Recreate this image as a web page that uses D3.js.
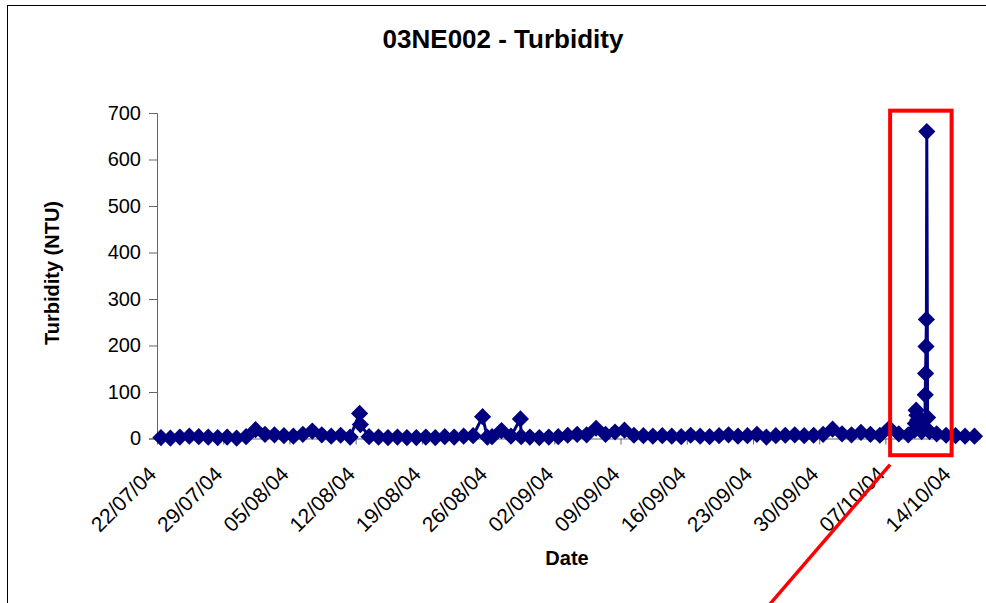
<html>
<head>
<script src="https://d3js.org/d3.v7.min.js"></script>
<style>
 body { margin: 0; background: #fff; }
 text { font-family: Arial, "Liberation Sans", sans-serif; }
</style>
</head>
<body>
<script type="text/javascript">

// daily grab samples, taken around 10:00 each day from 22/07/04
var startDay = "22/07/04";
var dailyValues = [
  2, 1, 3, 5, 4, 3, 2, 3, 1, 4,        // 22/07 - 31/07
  19, 9, 8, 6, 5, 9, 16, 8, 5, 7,      // 01/08 - 10/08
  3, 54, 4, 3, 2, 3, 2, 2, 3, 2,       // 11/08 - 20/08
  4, 3, 5, 6, 47, 4, 17, 5, 42, 3,     // 21/08 - 30/08
  2, 3, 4, 7, 9, 8, 22, 9, 14, 18,     // 31/08 - 09/09
  7, 6, 5, 6, 5, 4, 7, 5, 4, 6,        // 10/09 - 19/09
  8, 5, 6, 9, 3, 6, 7, 8, 6, 7,        // 20/09 - 29/09
  9, 20, 10, 8, 13, 9, 7, 22, 10, 8,   // 30/09 - 09/10
  null, null, 10, 7, 6, 5, 5           // 10/10 - 16/10 (10th & 11th in event list)
];

// extra samples during events
var eventTimes = [
  "12/08/04 12:00", "25/08/04 22:00", "29/08/04 12:00",
  "10/10/04 02:00", "10/10/04 04:00", "10/10/04 06:00", "10/10/04 08:00",
  "10/10/04 10:00", "10/10/04 14:00", "10/10/04 20:00",
  "11/10/04 04:00", "11/10/04 05:00", "11/10/04 06:00", "11/10/04 07:00",
  "11/10/04 08:00", "11/10/04 09:00", "11/10/04 11:00", "11/10/04 16:00"
];
var eventValues = [
  30, 3, 4,
  18, 32, 61, 50,
  40, 28, 15,
  22, 94, 140, 198,
  256, 660, 45, 15
];

var tickLabels = ["22/07/04", "29/07/04", "05/08/04", "12/08/04", "19/08/04", "26/08/04",
  "02/09/04", "09/09/04", "16/09/04", "23/09/04", "30/09/04", "07/10/04", "14/10/04"];
var yTicks = [0, 100, 200, 300, 400, 500, 600, 700];
var axisEnd = "17/10/04";

// highlight box + pointer line, in data units
var boxFrom = "07/10/04 12:00", boxTo = "14/10/04 00:00", boxLow = -36, boxHigh = 705;
var pointerFrom = ["07/10/04 12:00", -56], pointerTo = ["24/09/04 19:00", -356];

var parseDay = d3.timeParse("%d/%m/%y");
var parseTime = d3.timeParse("%d/%m/%y %H:%M");

var data = [];
var d0 = parseDay(startDay);
dailyValues.forEach(function(v, i) {
  if (v == null) return;
  var t = d3.timeDay.offset(d0, i);
  t = d3.timeHour.offset(t, 10);
  data.push([t, v]);
});
eventTimes.forEach(function(s, i) { data.push([parseTime(s), eventValues[i]]); });
data.sort(function(a, b) { return a[0] - b[0]; });

var svg = d3.select("body").append("svg").attr("width", 986).attr("height", 603);

// chart frame
svg.append("rect").attr("x", 7.5).attr("y", 5.5).attr("width", 1000).attr("height", 700)
  .attr("fill", "none").attr("stroke", "#000").attr("stroke-width", 1);

var x = d3.scaleTime().domain([d0, parseDay(axisEnd)]).range([157, 980]);
var y = d3.scaleLinear().domain([0, 700]).range([438.5, 113]);

svg.append("text").attr("x", 503).attr("y", 48).attr("text-anchor", "middle")
  .attr("font-size", 26).attr("font-weight", "bold").text("03NE002 - Turbidity");

// y axis
var yAxis = svg.append("g").attr("transform", "translate(157,0)")
  .call(d3.axisLeft(y).tickValues(yTicks).tickSize(8).tickPadding(8));
yAxis.selectAll("text").attr("font-size", 20).attr("fill", "#000")
  .style("font-family", "Arial, 'Liberation Sans', sans-serif");
yAxis.select(".domain").attr("stroke", "#666");
yAxis.selectAll(".tick line").attr("stroke", "#666");

svg.append("text").attr("transform", "translate(59,273) rotate(-90)")
  .attr("text-anchor", "middle").attr("font-size", 20).attr("font-weight", "bold")
  .text("Turbidity (NTU)");

// x axis
var xAxis = svg.append("g").attr("transform", "translate(0,438.5)")
  .call(d3.axisBottom(x).tickValues(tickLabels.map(parseDay))
    .tickFormat(d3.timeFormat("%d/%m/%y")).tickSize(6).tickSizeOuter(0));
xAxis.select(".domain").attr("stroke", "#666");
xAxis.selectAll(".tick line").attr("stroke", "#666");
xAxis.selectAll("text").attr("font-size", 21).attr("fill", "#000")
  .style("font-family", "Arial, 'Liberation Sans', sans-serif")
  .attr("text-anchor", "end").attr("dy", null).attr("y", null)
  .attr("transform", "translate(0,37) rotate(-45)");

svg.append("text").attr("x", 567).attr("y", 565).attr("text-anchor", "middle")
  .attr("font-size", 20).attr("font-weight", "bold").text("Date");

// series
var line = d3.line().x(function(d) { return x(d[0]); }).y(function(d) { return y(d[1]); });
svg.append("path").datum(data).attr("d", line)
  .attr("fill", "none").attr("stroke", "#000080").attr("stroke-width", 3);

var diamond = d3.symbol().type(d3.symbolSquare).size(148);
svg.selectAll(".pt").data(data).enter().append("path")
  .attr("class", "pt")
  .attr("d", diamond)
  .attr("transform", function(d) { return "translate(" + x(d[0]) + "," + y(d[1]) + ") rotate(45)"; })
  .attr("fill", "#000080");

// highlight annotation
var bx0 = x(parseTime(boxFrom)), bx1 = x(parseTime(boxTo));
svg.append("rect").attr("x", bx0).attr("y", y(boxHigh))
  .attr("width", bx1 - bx0).attr("height", y(boxLow) - y(boxHigh))
  .attr("fill", "none").attr("stroke", "#ff0000").attr("stroke-width", 4);
svg.append("line")
  .attr("x1", x(parseTime(pointerFrom[0]))).attr("y1", y(pointerFrom[1]))
  .attr("x2", x(parseTime(pointerTo[0]))).attr("y2", y(pointerTo[1]))
  .attr("stroke", "#ff0000").attr("stroke-width", 3.5);

</script>
</body>
</html>
